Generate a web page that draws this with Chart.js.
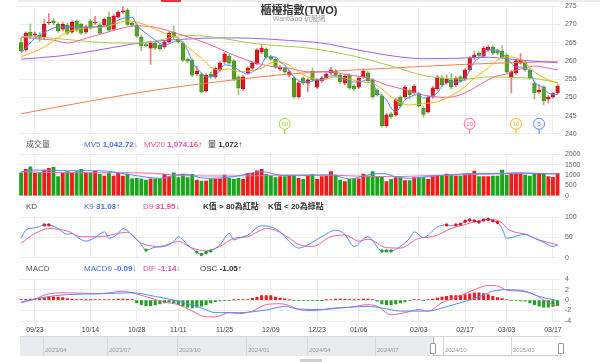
<!DOCTYPE html>
<html>
<head>
<meta charset="utf-8">
<script src="https://cdn.jsdelivr.net/npm/chart.js@4.4.1/dist/chart.umd.min.js"></script>
<style>
  body{margin:0;width:600px;height:362px;overflow:hidden;background:#fff;position:relative;
       font-family:"Liberation Sans",Arial,"Noto Sans CJK TC",sans-serif;}
  canvas{position:absolute;left:0;}
  .t{position:absolute;font-size:8px;line-height:10px;white-space:nowrap;color:#555;}
  .t b{font-weight:bold;}
  .blue{color:#3f6ff2;} .pink{color:#ee4f97;} .dark{color:#333;}
  #topline{position:absolute;left:18px;top:0;width:582px;height:2px;background:#ececec;}
  #tab{position:absolute;left:161px;top:0;width:20px;height:2px;background:#e8333a;}
  #title{position:absolute;left:0;width:598px;top:1px;text-align:center;font-size:11px;font-weight:bold;color:#333;}
  #sub{position:absolute;left:0;width:598px;top:13px;text-align:center;font-size:7px;color:#9a9a9a;}
  #nav{position:absolute;left:20px;top:336px;width:541px;height:19px;border-top:1px solid #d5d8dc;}
  #navShade{position:absolute;left:0;top:0;width:413px;height:19px;background:#e8ebef;}
  #navSel{position:absolute;left:413px;top:0;width:128px;height:18px;border-bottom:1px solid #c4c7cc;border-left:1px solid #b8bbc0;}
  .nd{position:absolute;top:0;width:1px;height:19px;background:#d3d7dc;}
  .nl{position:absolute;top:10px;font-size:6px;color:#9a9a9a;}
  .hd{position:absolute;top:6px;width:4px;height:9px;background:#fff;border:1px solid #999;border-radius:1px;}
  #scroll{position:absolute;left:300px;top:359px;width:22px;height:3px;background:#cfcfcf;}
</style>
</head>
<body>
<div id="topline"></div>
<div id="tab"></div>

<canvas id="cMain" width="600" height="146" style="top:-3.2px"></canvas>
<div id="title">櫃檯指數(TWO)</div>
<div id="sub">WantGoo 玩股網</div>

<div class="t" style="left:26px;top:140px">成交量</div>
<div class="t blue" style="left:84px;top:140px">MV5 <b>1,042.72</b>↓</div>
<div class="t pink" style="left:144px;top:140px">MV20 <b>1,074.16</b>↑</div>
<div class="t dark" style="left:208px;top:140px">量 <b>1,072</b>↑</div>
<canvas id="cVol" width="600" height="60" style="top:144.8px"></canvas>

<div class="t" style="left:26px;top:202px">KD</div>
<div class="t blue" style="left:84px;top:202px">K9 <b>31.03</b>↑</div>
<div class="t pink" style="left:143px;top:202px">D9 <b>31.95</b>↓</div>
<div class="t dark" style="left:203px;top:202px"><b>K值 &gt; 80為紅點</b></div>
<div class="t dark" style="left:268px;top:202px"><b>K值 &lt; 20為綠點</b></div>
<canvas id="cKD" width="600" height="59" style="top:207.8px"></canvas>

<div class="t" style="left:26px;top:264px">MACD</div>
<div class="t blue" style="left:84px;top:264px">MACD9 <b>-0.09</b>↓</div>
<div class="t pink" style="left:143px;top:264px">DIF <b>-1.14</b>↓</div>
<div class="t dark" style="left:200px;top:264px">OSC <b>-1.05</b>↑</div>
<canvas id="cMacd" width="600" height="66" style="top:269.8px"></canvas>

<div id="nav">
  <div id="navShade"></div>
  <div id="navSel"></div>
  <div class="nd" style="left:23px"></div><div class="nl" style="left:25px">2023/04</div>
  <div class="nd" style="left:87px"></div><div class="nl" style="left:89px">2023/07</div>
  <div class="nd" style="left:157px"></div><div class="nl" style="left:159px">2023/10</div>
  <div class="nd" style="left:226px"></div><div class="nl" style="left:228px">2024/01</div>
  <div class="nd" style="left:287px"></div><div class="nl" style="left:289px">2024/04</div>
  <div class="nd" style="left:355px"></div><div class="nl" style="left:357px">2024/07</div>
  <div class="nd" style="left:423px"></div><div class="nl" style="left:425px">2024/10</div>
  <div class="nd" style="left:491px"></div><div class="nl" style="left:493px">2025/01</div>
  <div class="hd" style="left:410px"></div>
  <div class="hd" style="left:538px"></div>
</div>
<div id="scroll"></div>

<script>
// ===== Data (index 0 = 09/18 ... 116 = 03/18) =====
const tickIdx  = [3, 15, 25, 34, 44, 54, 64, 73, 86, 96, 105, 115];
const tickText = ['09/23','10/14','10/28','11/11','11/25','12/09','12/23','01/06','02/03','02/17','03/03','03/17'];

const open = [265.0,263.0,267.9,267.1,267.1,266.5,270.4,271.0,270.0,268.7,
  269.8,267.9,270.9,270.0,267.9,271.0,270.4,269.8,269.8,272.0,
  268.7,272.0,273.4,273.9,270.3,269.8,266.5,264.3,263.5,264.9,
  264.3,263.8,265.2,267.9,266.0,264.9,260.5,260.2,256.4,256.4,
  251.8,256.4,255.6,257.5,259.7,261.3,260.0,255.6,252.3,256.8,
  258.0,259.2,262.4,263.2,261.1,260.5,257.7,258.0,256.1,255.3,
  250.1,255.3,253.9,257.2,252.8,254.5,255.3,256.7,257.2,256.1,
  253.9,256.1,253.1,252.8,255.6,256.7,254.8,252.0,250.4,242.2,
  245.5,245.2,250.1,250.1,252.0,251.2,251.0,247.0,246.0,250.1,
  252.3,255.3,254.0,254.8,253.4,255.6,255.0,257.5,260.8,262.1,
  261.3,263.0,263.8,262.8,262.6,261.6,255.3,256.7,259.4,259.7,
  257.5,253.9,251.5,252.8,249.5,250.1,251.2];
const high = [266.2,268.0,270.1,268.0,267.8,271.3,273.0,271.6,270.6,270.6,
  270.3,271.0,271.2,270.4,269.8,271.5,272.2,270.3,271.8,273.4,
  272.8,273.8,275.2,274.5,270.8,270.2,267.0,264.8,265.4,265.3,
  264.7,265.6,268.0,269.5,266.4,265.3,260.9,260.6,258.5,256.8,
  256.5,256.9,258.4,259.8,262.3,261.7,260.4,256.0,256.0,258.4,
  259.8,263.4,264.5,263.6,261.5,260.9,258.7,258.4,257.4,255.7,
  254.4,255.7,255.2,258.0,255.2,255.7,256.8,258.2,257.6,256.5,
  256.2,256.5,253.5,255.7,257.8,257.1,255.2,252.4,250.8,245.6,
  245.9,249.7,250.5,253.2,252.4,253.5,251.4,247.4,250.5,253.0,
  256.0,256.0,256.2,256.5,255.7,256.0,257.9,261.2,262.6,262.5,
  263.9,264.2,264.2,263.2,264.2,262.0,257.4,260.4,262.0,260.1,
  257.9,254.3,253.5,253.2,250.5,251.4,253.5];
const low = [262.3,262.6,266.3,266.5,265.3,266.0,270.0,269.9,267.8,268.2,
  267.2,267.5,268.0,267.2,267.5,268.6,270.0,267.2,269.4,268.0,
  268.3,271.7,273.0,269.6,269.4,266.4,262.8,263.8,259.0,263.1,
  262.9,263.4,264.8,266.1,264.8,259.8,259.5,255.7,256.0,251.1,
  251.4,255.2,255.2,257.1,259.3,259.0,254.6,250.7,251.9,256.4,
  257.6,258.8,262.0,260.7,260.1,257.9,257.3,256.6,255.7,249.7,
  249.7,253.5,251.5,254.4,252.4,254.1,254.9,256.3,255.7,253.8,
  253.5,252.2,251.9,252.4,255.2,254.1,249.7,250.3,241.8,241.8,
  244.2,244.8,247.3,249.7,249.5,250.8,247.3,244.5,245.6,249.7,
  251.9,253.0,253.6,252.4,253.0,254.1,254.6,257.1,260.4,261.1,
  260.9,262.6,261.7,261.7,260.6,256.6,251.2,256.3,259.0,257.1,
  254.9,249.5,251.1,248.0,248.5,249.7,250.8];
const close = [262.7,267.6,266.8,267.4,266.2,270.0,270.6,270.4,268.2,270.0,
  267.6,270.6,268.4,267.6,269.3,269.0,270.6,267.6,271.4,268.4,
  272.3,273.4,273.7,270.0,269.8,266.8,264.1,264.2,264.9,263.5,
  263.3,265.2,267.6,266.5,265.2,260.2,259.9,256.1,257.2,251.5,
  256.1,255.6,258.0,259.4,261.9,259.4,255.0,252.6,255.6,258.0,
  259.4,263.0,263.5,261.1,260.5,258.3,258.3,257.0,257.0,250.1,
  254.0,253.9,254.8,254.8,254.8,255.3,256.4,257.5,256.1,254.2,
  255.8,252.6,252.3,255.3,257.2,254.5,250.1,250.7,242.2,245.2,
  244.6,249.3,247.7,252.8,250.7,253.1,247.7,245.3,250.1,252.6,
  255.6,253.4,255.0,252.8,255.3,254.5,257.5,260.8,261.6,261.5,
  263.5,263.8,262.1,262.1,261.0,257.0,257.0,260.0,260.2,257.5,
  255.3,251.2,252.0,249.0,250.1,251.0,253.1];

// moving averages: [index, value]
const ma5 = [[0,262.1],[3,266.2],[5,267.8],[8,269.3],[14,269.3],[18,269.5],[22,271.7],[24,272.0],[25,269.8],[27,267.6],
  [29,265.7],[31,264.3],[33,265.2],[34,265.7],[36,263.0],[37,259.7],[39,256.7],[40,255.6],[42,255.9],[43,257.5],
  [44,258.9],[46,258.3],[47,257.5],[49,256.4],[50,257.0],[52,258.9],[53,261.1],[55,261.1],[56,259.7],[57,258.9],
  [59,255.6],[61,254.2],[62,254.2],[64,254.8],[65,254.8],[66,255.6],[68,255.9],[69,255.6],[70,254.8],[72,254.2],
  [73,254.2],[75,254.8],[76,253.9],[77,251.5],[79,249.3],[80,247.1],[81,246.0],[82,247.4],[83,249.3],[84,250.1],
  [86,250.7],[87,249.8],[88,250.1],[90,251.2],[91,253.1],[93,254.2],[94,254.2],[96,255.0],[97,257.5],[98,259.7],
  [100,261.6],[101,263.0],[103,263.0],[104,262.1],[105,260.8],[106,259.4],[107,258.3],[109,258.3],[110,257.0],
  [111,254.2],[113,252.6],[114,251.2],[116,250.7]];
const ma10 = [[0,261.1],[5,263.8],[10,267.9],[14,269.0],[18,269.3],[21,270.4],[23,271.0],[25,270.6],[27,269.8],
  [29,268.7],[31,267.6],[34,266.2],[36,263.8],[39,260.8],[41,258.3],[43,257.5],[45,257.8],[47,257.0],[49,257.2],
  [52,258.0],[54,259.4],[56,259.7],[58,258.8],[60,257.0],[62,255.6],[65,254.8],[68,255.6],[71,255.0],[74,254.2],
  [76,253.9],[78,252.3],[80,250.1],[82,248.5],[84,247.9],[87,248.3],[90,248.8],[92,249.8],[94,251.2],[96,252.9],
  [98,255.3],[101,258.0],[103,260.2],[105,261.1],[107,260.8],[109,259.4],[111,257.0],[114,254.8],[116,254.0]];
const ma20 = [[0,266.5],[4,266.0],[7,265.7],[10,264.9],[14,266.2],[18,267.6],[21,268.7],[25,269.6],[29,269.2],
  [34,267.4],[38,265.8],[42,263.8],[46,261.6],[50,259.7],[55,258.3],[58,258.0],[62,257.0],[66,257.0],[71,256.1],
  [75,255.3],[79,253.4],[84,251.8],[87,250.6],[90,250.1],[92,250.0],[95,250.7],[98,252.6],[101,254.8],[103,255.9],
  [105,256.4],[107,257.5],[109,258.0],[111,258.6],[114,258.0],[116,257.5]];
const ma60 = [[0,266.8],[7,266.2],[14,265.4],[20,264.9],[25,264.9],[29,265.4],[33,266.6],[36,267.0],[43,266.3],
  [49,265.0],[55,264.2],[60,263.8],[65,263.0],[72,261.3],[80,258.6],[87,256.0],[91,255.3],[96,255.0],[101,255.6],
  [105,255.5],[109,255.3],[112,255.0],[116,254.0]];
const ma120 = [[0,260.5],[8,261.3],[16,262.8],[24,264.6],[30,265.5],[36,266.0],[43,266.3],[50,266.2],[58,265.6],
  [65,264.9],[72,263.2],[79,261.6],[87,260.6],[94,260.7],[101,261.0],[105,260.6],[110,260.0],[116,259.5]];
const ma240 = [[0,245.5],[15,249.0],[29,252.0],[44,254.5],[58,256.4],[72,257.5],[87,258.5],[101,259.3],[116,259.8]];

const markIdx  = [57, 97, 107, 112];
const markText = ['60', '20', '10', '5'];

const volume = [1110,1270,1395,1080,1110,1240,1320,1365,920,1080,
  1160,1110,1160,1270,1110,1080,1190,1030,950,1110,
  950,1080,950,1050,810,840,810,760,810,810,
  810,1030,920,1110,870,1030,870,1030,760,710,
  710,810,810,810,1000,840,790,840,790,1080,
  1080,1205,1270,1030,950,870,920,920,950,950,
  840,790,970,1030,790,920,950,1160,1000,760,
  680,790,810,810,1050,950,1160,920,890,680,
  790,870,870,730,730,870,870,870,790,920,
  950,950,1050,990,950,950,1030,1080,1190,920,
  920,920,950,950,1240,1000,1080,1030,1080,1000,
  950,1050,1080,1080,920,890,1072];
const mv5 = [[0,1158],[3,1238],[10,1206],[17,1206],[24,1000],[30,841],[35,1047],[40,841],[46,920],[52,1158],
  [57,968],[60,968],[67,1000],[71,810],[75,1000],[78,1079],[81,920],[84,841],[89,952],[94,1031],[98,1079],
  [104,1079],[107,1111],[111,1079],[116,1043]];
const mv20 = [[0,1158],[10,1111],[20,1111],[29,1079],[35,968],[45,952],[52,968],[58,1000],[65,1000],[72,952],
  [80,920],[88,968],[95,1000],[102,1047],[110,1079],[116,1074]];

const kLine = [[0,48],[1,68],[3,74],[4,77],[5,81],[6,81],[7,78],[8,72],[10,58],[11,60],[12,52],[14,41],[16,50],
  [18,64],[19,48],[21,60],[22,72],[24,56],[26,32],[27,19],[29,26],[31,28],[33,40],[34,52],[36,32],[38,14],[39,8],
  [40,13],[41,17],[43,32],[45,60],[46,44],[47,48],[49,56],[52,79],[54,76],[56,64],[58,40],[60,24],[62,32],[65,52],
  [68,68],[70,58],[72,28],[75,52],[78,17],[79,17],[80,17],[82,28],[84,48],[85,64],[87,50],[90,76],[92,81],[93,79],
  [94,81],[95,83],[96,90],[97,93],[98,91],[99,88],[100,93],[101,95],[102,91],[103,87],[104,72],[105,48],[106,50],
  [109,58],[111,48],[113,38],[115,28],[116,31.03]];
const dLine = [[0,36],[3,60],[6,72],[10,66],[13,52],[17,52],[23,63],[26,36],[30,28],[34,40],[37,24],[40,17],[43,28],
  [46,48],[49,52],[53,72],[55,68],[58,48],[60,33],[63,28],[67,52],[70,56],[73,41],[75,46],[79,25],[82,24],[86,48],
  [89,52],[93,72],[96,82],[100,93],[102,94],[104,86],[105,73],[106,66],[109,58],[112,44],[116,31.95]];

const dif = [[0,-0.5],[3,0.2],[6,1.2],[10,1.4],[17,1.24],[22,1.7],[24,1.4],[28,0.4],[31,-0.4],[34,-0.86],[37,-2.1],
  [40,-3.2],[42,-3.2],[45,-2.4],[47,-2.6],[50,-2.1],[53,-0.86],[56,-0.7],[58,-1.05],[60,-1.8],[63,-2.0],[68,-1.5],
  [71,-1.4],[75,-0.86],[77,-1.2],[80,-2.8],[83,-2.4],[86,-1.8],[88,-2.1],[91,-0.5],[95,0.86],[98,2.0],[101,2.8],
  [103,2.7],[105,1.9],[108,1.7],[111,1.05],[114,-0.5],[116,-1.14]];
const macd9 = [[0,-0.4],[4,0.4],[10,1.05],[17,1.2],[24,1.4],[29,0.7],[34,-0.2],[39,-1.5],[42,-2.4],[47,-2.4],[53,-1.9],
  [57,-1.2],[60,-1.7],[65,-1.8],[69,-1.5],[75,-1.2],[78,-1.5],[82,-2.1],[88,-2.1],[91,-1.5],[95,-0.5],[99,0.6],
  [102,1.7],[105,2.0],[109,1.7],[112,0.7],[116,-0.09]];
const osc = [0.1,0.15,0.2,0.25,0.3,
  0.45,0.6,0.62,0.6,0.5,0.3,
  0.2,0.1,0.1,0.05,0.05,0.1,0.1,0.1,0.1,0.1,0.2,0.2,0.15,0.1,
  -0.54,-0.86,-1.05,-1.05,-0.92,-0.73,-0.54,-0.41,-0.54,-0.86,-1.17,-1.37,-1.49,-1.37,-1.17,-0.86,-0.54,-0.3,-0.15,
  -0.1,-0.1,0.05,0.1,0.1,0.1,
  0.35,0.54,0.86,0.86,0.86,0.6,0.41,0.22,
  0.05,-0.1,-0.1,-0.1,-0.1,-0.1,-0.05,-0.05,0.05,
  0.1,0.2,0.2,0.15,0.1,0.05,0.1,0.2,0.2,0.1,-0.2,
  -0.73,-0.86,-0.86,-0.73,-0.54,-0.35,
  -0.1,0.1,0.1,-0.1,0.1,0.2,
  0.41,0.6,0.73,0.86,0.86,0.92,1.05,1.18,1.37,1.37,1.25,1.05,0.73,0.5,0.3,
  0.1,-0.1,-0.1,-0.15,-0.2,
  -0.54,-0.86,-1.17,-1.37,-1.37,-1.2,-1.05];

// ===== Styles =====
const RED = '#e3141b', RED_D = '#a8000a', GRN = '#54a21e', GRN_D = '#3b7d14';
const C5 = '#4a8cff', C10 = '#ffb400', C20 = '#f2609f', C60 = '#a3cf45', C120 = '#a05cf5', C240 = '#ff7d4d';
const markColor = [C60, C20, C10, C5];
const GRID = '#ededed';

Chart.defaults.font.family = '"Liberation Sans", Arial, sans-serif';

const el = id => document.getElementById(id);
const up = close.map((c, i) => c >= open[i]);
const pts = arr => arr.map(p => ({x: p[0], y: p[1]}));
const xMin = -0.5, xMax = open.length - 0.5;

function xAxis(show){
  return {
    type: 'linear', min: xMin, max: xMax, offset: false,
    afterBuildTicks: s => { s.ticks = tickIdx.map(v => ({value: v})); },
    grid: {color: GRID, drawTicks: false, offset: false},
    border: {display: false},
    ticks: {display: show, autoSkip: false, maxRotation: 0, padding: 5, color: '#444',
            font: {size: 7}, callback: (v, i) => tickText[i]},
    afterFit: s => { s.height = show ? 15 : 0; }
  };
}
// y tick labels have half a line (4.2px) + 5px padding reserved above and below the plot
function yAxis(min, max, step){
  return {
    position: 'right', min, max,
    ticks: {stepSize: step, padding: 5, color: '#666', autoSkip: false,
            font: {size: 7, lineHeight: 1.2}, callback: v => String(v)},
    grid: {color: GRID, drawTicks: false},
    border: {display: false},
    afterFit: s => { s.width = 40.1; }
  };
}
function base(){
  return {
    responsive: false, animation: false, events: [],
    layout: {padding: {left: 18.8, right: 0, top: 0, bottom: 0}},
    plugins: {legend: {display: false}, tooltip: {enabled: false}}
  };
}
function line(data, color, order){
  return {type: 'line', data: pts(data), borderColor: color, borderWidth: 1, pointRadius: 0,
          cubicInterpolationMode: 'monotone', order: order || 0};
}

// ===== MA markers =====
const maMarks = {
  id: 'maMarks',
  afterDatasetsDraw(chart){
    const {ctx, chartArea, scales: {x}} = chart;
    markIdx.forEach((idx, k) => {
      const px = x.getPixelForValue(idx), cy = chartArea.bottom - 10, c = markColor[k];
      ctx.save();
      ctx.strokeStyle = c; ctx.lineWidth = 1;
      ctx.beginPath(); ctx.moveTo(px, cy + 5.5); ctx.lineTo(px, chartArea.bottom); ctx.stroke();
      ctx.beginPath(); ctx.arc(px, cy, 5.5, 0, Math.PI * 2);
      ctx.fillStyle = '#fff'; ctx.fill(); ctx.stroke();
      ctx.fillStyle = c; ctx.font = '6px "Liberation Sans", Arial';
      ctx.textAlign = 'center'; ctx.textBaseline = 'middle';
      ctx.fillText(markText[k], px, cy + 0.5);
      ctx.restore();
    });
  }
};

// ===== Main price chart =====
new Chart(el('cMain'), {
  type: 'bar',
  data: {datasets: [
    line(ma5, C5), line(ma10, C10), line(ma20, C20), line(ma60, C60), line(ma120, C120), line(ma240, C240),
    {data: open.map((o, i) => ({x: i, y: [o, close[i]]})), grouped: false, barThickness: 3.6, minBarLength: 1,
     backgroundColor: up.map(u => u ? RED : GRN), borderColor: up.map(u => u ? RED_D : GRN_D),
     borderWidth: 0.5, borderSkipped: false, order: 1},
    {data: open.map((o, i) => ({x: i, y: [low[i], high[i]]})), grouped: false, barThickness: 1,
     backgroundColor: up.map(u => u ? 'rgba(227,20,27,0.55)' : 'rgba(84,162,30,0.6)'), order: 2}
  ]},
  options: {...base(), scales: {x: xAxis(false), y: yAxis(240, 275, 5)}},
  plugins: [maMarks]
});

// ===== Volume =====
new Chart(el('cVol'), {
  type: 'bar',
  data: {datasets: [
    line(mv5, '#4d8fff'), line(mv20, '#f36aa8'),
    {data: volume.map((v, i) => ({x: i, y: v})), barThickness: 3.2,
     backgroundColor: up.map(u => u ? '#f21b1b' : '#1ba51b'), order: 1}
  ]},
  options: {...base(), scales: {x: xAxis(false), y: yAxis(0, 2000, 500)}}
});

// ===== KD =====
const dotColor = v => v > 80 ? '#ee0f14' : (v < 20 ? '#1aa31a' : 'rgba(0,0,0,0)');
new Chart(el('cKD'), {
  type: 'line',
  data: {datasets: [
    {...line(kLine, '#4d8fff'),
     pointRadius: c => (c.raw.y > 80 || c.raw.y < 20) ? 1.7 : 0,
     pointBackgroundColor: c => dotColor(c.raw.y), pointBorderWidth: 0},
    line(dLine, '#f0609f', 1)
  ]},
  options: {...base(), scales: {x: xAxis(false), y: yAxis(0, 100, 50)}}
});

// ===== MACD =====
new Chart(el('cMacd'), {
  type: 'bar',
  data: {datasets: [
    line(macd9, '#4d8fff'), line(dif, '#f0609f'),
    {data: osc.map((v, i) => ({x: i, y: v})), barThickness: 2.4,
     backgroundColor: osc.map(v => v >= 0 ? '#f21b1b' : '#1ba51b'), order: 1}
  ]},
  options: {...base(), scales: {x: xAxis(true), y: yAxis(-4, 4, 2)}}
});
</script>
</body>
</html>
